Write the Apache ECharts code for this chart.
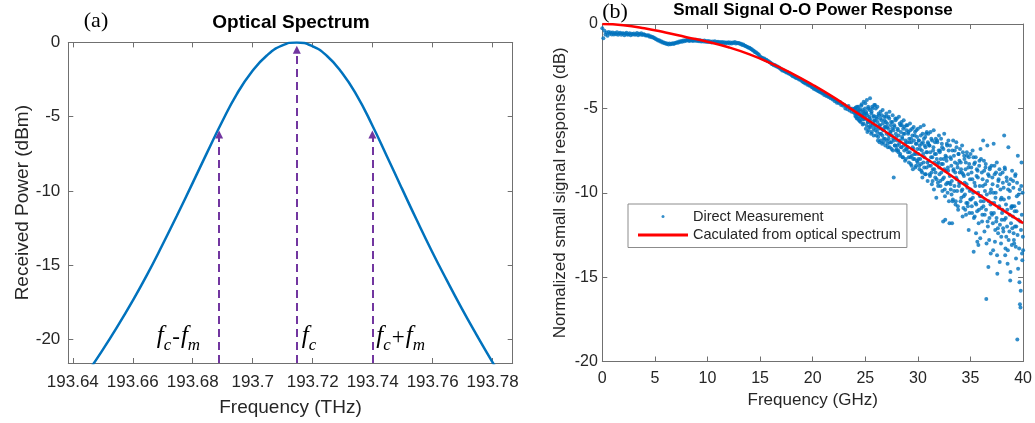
<!DOCTYPE html>
<html>
<head>
<meta charset="utf-8">
<script src="https://cdn.jsdelivr.net/npm/echarts@6/dist/echarts.min.js"></script>
<style>
  html, body { margin: 0; padding: 0; background: #fff; }
  #chart { width: 1035px; height: 423px; }
</style>
</head>
<body>
<div id="chart"></div>
<script>
// ---------- (a) Optical spectrum ----------
const specFreq = [193.6447, 193.6497, 193.6547, 193.6597, 193.6647, 193.6697, 193.6747, 193.6797,
  193.6847, 193.6897, 193.6947, 193.6997, 193.7047, 193.7097, 193.7147, 193.7197, 193.7247, 193.7297,
  193.7347, 193.7397, 193.7447, 193.7497, 193.7547, 193.7597, 193.7647, 193.7697, 193.7747, 193.7797, 193.7847];
const specDb = [-22.3, -20.8, -19.2, -17.5, -15.68, -13.72, -11.68, -9.58, -7.46, -5.38, -3.48, -1.98,
  -0.88, -0.22, 0, -0.23, -0.9, -2.03, -3.57, -5.51, -7.65, -9.82, -11.97, -14.05, -16.02, -17.92, -19.72, -21.45, -23.1];
// carrier and the two modulation sidebands, with the level each arrow reaches
const toneFreq = [193.6888, 193.7147, 193.7399];
const toneTipDb = [-6.2, -0.5, -6.2];
const specTicksX = [193.64, 193.66, 193.68, 193.70, 193.72, 193.74, 193.76, 193.78];
const specTicksY = [0, -5, -10, -15, -20];

// ---------- (b) Small signal O-O power response ----------
// measured sweep, 0 to 23.9 GHz every 0.1 GHz
const bandStepGHz = 0.1;
const bandDb = [
  -0.25, -0.85, -0.4, -0.62, -0.5, -0.7, -0.48, -0.58, -0.5, -0.62,
  -0.5, -0.62, -0.54, -0.6, -0.49, -0.63, -0.56, -0.52, -0.64, -0.57,
  -0.55, -0.66, -0.58, -0.52, -0.64, -0.6, -0.55, -0.67, -0.58, -0.62,
  -0.56, -0.64, -0.6, -0.53, -0.66, -0.58, -0.62, -0.55, -0.65, -0.6,
  -0.62, -0.68, -0.66, -0.7, -0.67, -0.75, -0.72, -0.78, -0.77, -0.83,
  -0.84, -0.9, -0.92, -0.98, -0.97, -1.04, -1.02, -1.09, -1.08, -1.14,
  -1.12, -1.19, -1.16, -1.21, -1.15, -1.2, -1.17, -1.14, -1.18, -1.12,
  -1.13, -1.08, -1.11, -1.04, -1.07, -1.0, -1.05, -0.98, -1.02, -0.97,
  -0.99, -0.94, -0.98, -1.01, -0.93, -0.97, -1.0, -0.95, -0.99, -0.94,
  -1.0, -0.96, -1.02, -0.97, -1.03, -0.99, -1.04, -0.98, -1.05, -1.0,
  -1.06, -1.01, -1.07, -1.03, -1.09, -1.04, -1.08, -1.02, -1.1, -1.06,
  -1.05, -1.11, -1.07, -1.13, -1.06, -1.12, -1.08, -1.14, -1.09, -1.12,
  -1.08, -1.15, -1.1, -1.16, -1.09, -1.13, -1.07, -1.15, -1.11, -1.14,
  -1.12, -1.18, -1.17, -1.24, -1.22, -1.27, -1.3, -1.33, -1.36, -1.41,
  -1.4, -1.47, -1.49, -1.56, -1.58, -1.66, -1.68, -1.74, -1.78, -1.84,
  -1.92, -1.99, -2.0, -2.06, -2.05, -2.13, -2.12, -2.19, -2.2, -2.27,
  -2.3, -2.37, -2.38, -2.44, -2.43, -2.5, -2.51, -2.56, -2.58, -2.63,
  -2.68, -2.75, -2.74, -2.8, -2.82, -2.87, -2.86, -2.93, -2.94, -2.99,
  -3.02, -3.1, -3.08, -3.15, -3.18, -3.22, -3.21, -3.29, -3.28, -3.35,
  -3.38, -3.45, -3.47, -3.52, -3.5, -3.6, -3.58, -3.66, -3.65, -3.73,
  -3.76, -3.84, -3.83, -3.9, -3.91, -3.97, -3.98, -4.05, -4.02, -4.12,
  -4.1, -4.2, -4.17, -4.26, -4.24, -4.33, -4.3, -4.4, -4.37, -4.47,
  -4.45, -4.58, -4.5, -4.66, -4.6, -4.7, -4.62, -4.8, -4.72, -4.85,
  -4.78, -5.0, -4.9, -5.05, -4.86, -5.12, -5.0, -5.2, -5.02, -5.25
];
// measured sweep above 24 GHz, every 0.05 GHz starting at 24.000 GHz
const tailStartGHz = 24;
const tailStepGHz = 0.05;
const tailDb = [
  -5.0, -5.45, -4.95, -5.3, -5.6, -5.15, -5.25, -4.9, -5.7, -5.35, -5.05, -5.8, -5.4, -4.75, -5.5, -5.95, -5.2, -4.6, -5.65, -5.3,
  -4.7, -6.2, -5.3, -4.5, -6.4, -5.8, -5.0, -6.1, -5.6, -4.4, -5.9, -6.5, -5.2, -4.9, -6.0, -5.5, -6.6, -4.8, -5.7, -6.3,
  -5.0, -6.6, -5.6, -4.9, -6.9, -6.2, -5.4, -7.0, -6.0, -5.2, -6.5, -5.7, -7.1, -5.1, -6.3, -6.8, -5.5, -6.1, -7.2, -5.8,
  -5.3, -6.9, -6.1, -7.3, -5.5, -6.6, -5.2, -7.0, -6.4, -5.8, -7.4, -6.2, -5.4, -6.8, -9.1, -6.0, -7.2, -5.6, -6.5, -7.5,
  -5.6, -7.2, -6.3, -7.6, -5.5, -6.9, -7.8, -6.0, -7.3, -5.8, -6.7, -7.9, -6.2, -5.7, -7.5, -6.5, -7.1, -8.0, -6.0, -7.4,
  -6.0, -7.6, -6.4, -8.2, -7.0, -5.9, -7.9, -6.8, -8.4, -6.2, -7.3, -8.0, -6.1, -7.7, -6.6, -8.5, -7.1, -6.3, -8.1, -7.4,
  -6.2, -8.0, -6.9, -8.6, -7.4, -6.1, -8.3, -7.1, -8.8, -6.5, -7.7, -6.0, -8.5, -7.2, -6.7, -8.9, -7.6, -6.4, -8.2, -7.0,
  -6.5, -8.4, -7.2, -9.0, -6.4, -7.9, -8.8, -6.9, -9.3, -7.5, -6.3, -8.6, -7.7, -9.1, -6.8, -10.3, -8.0, -7.0, -9.4, -8.2,
  -6.6, -8.9, -7.5, -9.6, -6.8, -8.3, -7.3, -9.2, -11.7, -8.0, -6.5, -9.8, -11.6, -8.7, -7.9, -7.1, -9.4, -8.5, -6.9, -10.5,
  -11.8, -7.2, -9.5, -8.0, -10.1, -11.8, -10.5, -6.9, -8.6, -9.9, -7.5, -8.8, -10.5, -7.0, -9.2, -8.3, -10.8, -7.7, -9.6, -8.1,
  -7.4, -10.5, -8.6, -9.9, -7.2, -11.4, -8.9, -10.2, -7.8, -9.4, -11.0, -8.2, -10.6, -7.6, -9.7, -10.8, -8.5, -7.9, -11.2, -9.2,
  -7.7, -10.4, -8.8, -11.2, -7.5, -10.0, -13.5, -8.3, -11.4, -9.6, -7.9, -10.7, -8.6, -12.9, -9.1, -13.1, -11.0, -8.1, -10.2, -7.4,
  -8.0, -10.9, -11.7, -9.2, -6.9, -10.5, -8.7, -11.3, -9.5, -8.3, -16.3, -10.1, -7.2, -12.0, -14.4, -9.0, -11.5, -8.5, -10.7, -9.8,
  -8.4, -11.3, -9.5, -13.4, -7.1, -10.6, -8.9, -12.2, -10.0, -11.7, -8.2, -14.8, -12.1, -9.3, -10.9, -8.6, -11.9, -9.8, -13.0, -10.3,
  -11.2, -8.8, -12.1, -9.7, -6.6, -8.5, -13.7, -11.5, -12.6, -9.3, -11.0, -13.4, -7.3, -10.3, -12.3, -9.9, -14.7, -11.8, -10.8, -8.7,
  -10.8, -9.3, -12.4, -13.0, -11.1, -9.0, -13.2, -12.0, -10.2, -18.7, -7.8, -11.6, -10.6, -15.3, -16.6, -16.8, -12.2, -8.2, -13.6, -10.0,
  -13.4
];
// interleaved points of the same sweep, every 0.05 GHz starting at 24.025 GHz
const tailMidStartGHz = 24.025;
const tailMidDb = [
  -5.3, -5.0, -5.5, -5.2, -4.9, -5.6, -5.35, -5.1, -5.45, -5.75, -5.2, -5.55, -4.85, -5.4, -5.65, -5.1, -5.9, -5.3, -5.5, -5.0,
  -5.6, -5.2, -6.0, -5.4, -5.8, -4.9, -6.3, -5.5, -5.1, -6.1, -5.7, -5.3, -6.4, -5.0, -5.9, -6.2, -5.45, -5.75, -4.8, -6.0,
  -6.1, -5.5, -6.4, -5.8, -6.7, -5.3, -6.0, -6.5, -5.6, -6.9, -6.2, -5.4, -6.6, -5.9, -7.0, -6.3, -5.7, -6.8, -6.1, -5.5,
  -6.5, -5.9, -7.1, -6.2, -6.8, -5.6, -7.3, -6.4, -6.0, -7.0, -6.6, -5.8, -7.5, -6.3, -6.9, -6.1, -7.2, -5.7, -6.7, -7.4,
  -6.9, -6.2, -7.5, -6.6, -7.1, -5.9, -7.7, -6.4, -7.3, -6.0, -6.8, -7.9, -6.5, -7.2, -6.1, -8.1, -6.9, -7.4, -6.3, -7.0,
  -7.3, -6.5, -7.9, -6.8, -7.6, -6.3, -8.3, -7.0, -7.8, -6.6, -8.6, -7.4, -6.9, -8.0, -6.4, -7.7, -8.4, -7.1, -6.7, -8.2,
  -7.7, -6.9, -8.4, -7.2, -8.0, -6.6, -8.7, -7.5, -9.1, -7.0, -8.2, -6.8, -7.9, -8.9, -7.3, -6.5, -8.5, -7.6, -9.3, -7.1,
  -8.1, -7.2, -8.9, -7.6, -8.4, -6.8, -9.5, -7.9, -8.6, -7.3, -9.8, -8.2, -7.0, -8.8, -7.7, -9.2, -6.9, -8.3, -9.6, -7.5,
  -8.5, -7.6, -9.3, -8.0, -8.8, -7.1, -9.9, -8.3, -7.4, -9.1, -8.6, -10.2, -7.8, -9.5, -8.1, -7.2, -10.0, -8.7, -7.5, -9.4,
  -9.0, -7.9, -9.8, -8.4, -9.3, -7.5, -10.4, -8.7, -7.8, -9.6, -8.2, -10.7, -9.1, -7.3, -9.9, -8.5, -11.0, -7.7, -9.4, -8.8,
  -9.4, -8.2, -10.3, -8.8, -9.8, -7.6, -10.9, -9.0, -8.0, -10.1, -8.6, -11.3, -9.5, -7.8, -10.6, -8.9, -12.2, -8.3, -9.9, -10.4,
  -9.8, -8.5, -10.8, -9.2, -10.3, -7.9, -11.5, -9.4, -8.2, -10.6, -12.4, -9.0, -11.1, -8.7, -10.0, -11.8, -8.4, -9.6, -12.7, -10.5,
  -10.2, -8.8, -11.3, -9.6, -10.8, -8.1, -12.3, -9.9, -8.5, -11.0, -13.0, -9.3, -11.7, -8.9, -10.5, -12.8, -8.6, -10.0, -13.6, -11.2,
  -10.6, -9.1, -11.8, -10.0, -11.2, -8.4, -12.9, -10.3, -8.8, -11.5, -13.7, -9.6, -12.4, -9.2, -10.8, -14.1, -8.9, -10.4, -12.6, -11.6,
  -11.0, -9.4, -12.3, -10.4, -11.6, -8.6, -13.3, -10.7, -9.1, -12.0, -14.2, -9.8, -12.8, -9.5, -11.3, -15.2, -9.2, -10.9, -13.1, -12.1,
  -11.4, -9.7, -12.8, -10.8, -12.0, -8.9, -13.9, -11.1, -9.4, -12.5, -14.5, -10.1, -13.3, -9.8, -11.7, -15.8, -9.6, -11.3, -14.0, -12.6
];
// response derived from the optical spectrum
const calcFreq = [0, 2, 4, 6, 8, 10, 12, 14, 16, 18, 20, 22, 24, 26, 28, 30, 32, 34, 36, 38, 40];
const calcDb = [0, -0.07, -0.25, -0.5, -0.78, -1.05, -1.38, -1.8, -2.32, -2.92, -3.6, -4.35,
  -5.18, -6.0, -6.83, -7.66, -8.48, -9.35, -10.2, -11.0, -11.8];

const respTicksX = [0, 5, 10, 15, 20, 25, 30, 35, 40];
const respTicksY = [0, -5, -10, -15, -20];

// ---------- styling ----------
const SANS = '"Liberation Sans", Arial, sans-serif';
const SERIF = '"Liberation Serif", "Times New Roman", serif';
const AXIS_COLOR = '#707070';
const TEXT_COLOR = '#262626';
const BLUE = '#0072BD';
const RED = '#FF0000';
const PURPLE = '#7236A0';

const sweep = (vals, start, step) => vals.map((v, i) => [+(start + i * step).toFixed(3), v]);
const measData = sweep(bandDb, 0, bandStepGHz)
  .concat(sweep(tailDb, tailStartGHz, tailStepGHz))
  .concat(sweep(tailMidDb, tailMidStartGHz, tailStepGHz));
const specData = specFreq.map((f, i) => [f, specDb[i]]);
const calcData = calcFreq.map((f, i) => [f, calcDb[i]]);

function boxAxis(opts) {
  // one side of the boxed frame, ticks pointing inward
  const labelShown = opts.labels !== false;
  return Object.assign({
    type: 'value',
    axisLine: { show: true, onZero: false, lineStyle: { color: AXIS_COLOR, width: 1 } },
    axisTick: { show: true, inside: true, length: 5, customValues: opts.ticks, lineStyle: { color: AXIS_COLOR } },
    axisLabel: labelShown ? Object.assign({
      show: true, customValues: opts.ticks, color: TEXT_COLOR, fontFamily: SANS
    }, opts.label) : { show: false },
    splitLine: { show: false }
  }, opts.axis);
}

const fTok = { fontFamily: SERIF, fontStyle: 'italic', fontSize: 25, color: '#000', verticalAlign: 'bottom', lineHeight: 25, padding: [0, 0, 5, 0] };
const sTok = { fontFamily: SERIF, fontStyle: 'italic', fontSize: 17, color: '#000', verticalAlign: 'bottom', lineHeight: 17 };
const oTok = { fontFamily: SERIF, fontSize: 23, color: '#000', verticalAlign: 'bottom', lineHeight: 23, padding: [0, 1, 5, 1] };
const toneRich = { f: fTok, s: sTok, o: oTok };

const chart = echarts.init(document.getElementById('chart'), null, { renderer: 'canvas' });

chart.setOption({
  animation: false,
  backgroundColor: '#fff',
  grid: [
    { left: 68.3, right: 522.3, top: 42.4, bottom: 60 },
    { left: 602.3, right: 11.7, top: 24, bottom: 61.5 }
  ],
  xAxis: [
    boxAxis({ ticks: specTicksX, axis: {
        gridIndex: 0, position: 'bottom', min: 193.6385, max: 193.7867,
        name: 'Frequency (THz)', nameLocation: 'middle', nameGap: 35,
        nameTextStyle: { fontSize: 19, color: TEXT_COLOR, fontFamily: SANS } },
      label: { fontSize: 17, margin: 11, formatter: v => String(+(+v).toFixed(2)) } }),
    boxAxis({ ticks: specTicksX, labels: false, axis: { gridIndex: 0, position: 'top', min: 193.6385, max: 193.7867 } }),
    boxAxis({ ticks: respTicksX, axis: {
        gridIndex: 1, position: 'bottom', min: 0, max: 40,
        name: 'Frequency (GHz)', nameLocation: 'middle', nameGap: 30,
        nameTextStyle: { fontSize: 17, color: TEXT_COLOR, fontFamily: SANS } },
      label: { fontSize: 16, margin: 9 } }),
    boxAxis({ ticks: respTicksX, labels: false, axis: { gridIndex: 1, position: 'top', min: 0, max: 40 } })
  ],
  yAxis: [
    boxAxis({ ticks: specTicksY, axis: {
        gridIndex: 0, position: 'left', min: -21.6, max: 0,
        name: 'Received Power (dBm)', nameLocation: 'middle', nameGap: 36,
        nameTextStyle: { fontSize: 19, color: TEXT_COLOR, fontFamily: SANS } },
      label: { fontSize: 17, margin: 8 } }),
    boxAxis({ ticks: specTicksY, labels: false, axis: { gridIndex: 0, position: 'right', min: -21.6, max: 0 } }),
    boxAxis({ ticks: respTicksY, axis: {
        gridIndex: 1, position: 'left', min: -20, max: 0,
        name: 'Normalized small signal response (dB)', nameLocation: 'middle', nameGap: 33,
        nameTextStyle: { fontSize: 17, color: TEXT_COLOR, fontFamily: SANS } },
      label: { fontSize: 16, margin: 4.5 } }),
    boxAxis({ ticks: respTicksY, labels: false, axis: { gridIndex: 1, position: 'right', min: -20, max: 0 } })
  ],
  legend: {
    data: [
      { name: 'Direct Measurement', icon: 'circle' },
      { name: 'Caculated from optical spectrum', icon: 'rect' }
    ],
    orient: 'vertical', left: 628, top: 204,
    itemWidth: 50, itemHeight: 3, itemGap: 3.5,
    padding: [5, 6, 5, 10],
    backgroundColor: '#fff', borderColor: '#8c8c8c', borderWidth: 1, borderRadius: 0,
    selectedMode: false,
    textStyle: { fontSize: 14.5, color: TEXT_COLOR, fontFamily: SANS, lineHeight: 15 }
  },
  graphic: [
    { type: 'text', x: 96, y: 21, style: { text: '(a)', font: '22px ' + SERIF, fill: '#000', align: 'center', verticalAlign: 'middle' } },
    { type: 'text', x: 291, y: 23, style: { text: 'Optical Spectrum', font: 'bold 19px ' + SANS, fill: '#000', align: 'center', verticalAlign: 'middle' } },
    { type: 'text', x: 615, y: 12, style: { text: '(b)', font: '22px ' + SERIF, fill: '#000', align: 'center', verticalAlign: 'middle' } },
    { type: 'text', x: 813, y: 10, style: { text: 'Small Signal O-O Power Response', font: 'bold 17px ' + SANS, fill: '#000', align: 'center', verticalAlign: 'middle' } }
  ],
  series: [
    {
      name: 'Optical Spectrum',
      type: 'line', xAxisIndex: 0, yAxisIndex: 0,
      data: specData, smooth: true, symbol: 'none', clip: true,
      lineStyle: { color: BLUE, width: 2.5 },
      color: BLUE,
      markLine: {
        silent: true, animation: false,
        symbol: ['none', 'triangle'], symbolSize: 8,
        label: { show: false },
        lineStyle: { color: PURPLE, width: 2, type: [8, 5] },
        data: toneFreq.map((f, i) => [{ coord: [f, -21.6] }, { coord: [f, toneTipDb[i]] }])
      },
      markPoint: {
        silent: true, animation: false,
        symbol: 'circle', symbolSize: 0,
        label: { show: true, rich: toneRich },
        data: [
          { coord: [toneFreq[0], -20.15], label: { position: 'left', distance: 19, formatter: '{f|f}{s|c}{o|-}{f|f}{s|m}', rich: toneRich } },
          { coord: [toneFreq[1], -20.15], label: { position: 'right', distance: 5, formatter: '{f|f}{s|c}', rich: toneRich } },
          { coord: [toneFreq[2], -20.15], label: { position: 'right', distance: 4, formatter: '{f|f}{s|c}{o|+}{f|f}{s|m}', rich: toneRich } }
        ]
      }
    },
    {
      name: 'Direct Measurement',
      type: 'scatter', xAxisIndex: 2, yAxisIndex: 2,
      data: measData, symbol: 'circle', symbolSize: 4,
      itemStyle: { color: BLUE }, color: BLUE
    },
    {
      name: 'Caculated from optical spectrum',
      type: 'line', xAxisIndex: 2, yAxisIndex: 2,
      data: calcData, smooth: true, symbol: 'none',
      lineStyle: { color: RED, width: 2.5 }, color: RED, itemStyle: { color: RED }
    }
  ]
});
</script>
</body>
</html>
